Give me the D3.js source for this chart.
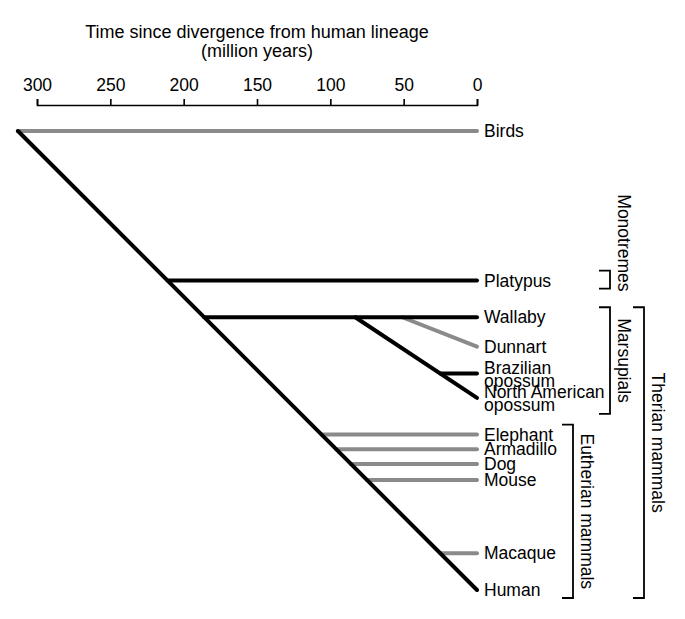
<!DOCTYPE html>
<html>
<head>
<meta charset="utf-8">
<script src="https://cdn.jsdelivr.net/npm/d3@7/dist/d3.min.js"></script>
<style>
  body { margin: 0; background: #fff; }
  svg { font-family: "Liberation Sans", Arial, Helvetica, sans-serif; }
</style>
</head>
<body>
<svg id="canvas" width="685" height="619"></svg>
<script>

// Taxa, top to bottom
var taxa = ["Birds", "Platypus", "Wallaby", "Dunnart", "Brazilian opossum",
  "North American opossum", "Elephant", "Armadillo", "Dog", "Mouse", "Macaque", "Human"];

// Time (million years ago) where each branch leaves its parent lineage
var splitTimes = [313, 211, 186, 51, 25, 83, 106, 96, 86, 75, 25, 313];
var parents = ["Human", "Human", "Human", "Wallaby", "North American opossum", "Wallaby",
  "Human", "Human", "Human", "Human", "Human", null];

// grey branches vs black branches
var lowCoverage = [true, false, false, true, false, false, true, true, true, true, true, false];

// Slanted lineages end on their own row (rows measured along the human lineage)
var tipRows = { "Human": 0, "North American opossum": 131, "Dunnart": 166 };

var axisTicks = [300, 250, 200, 150, 100, 50, 0];

// Clade brackets
var groups = ["Monotremes", "Marsupials", "Eutherian mammals", "Therian mammals"];
var groupFirst = ["Platypus", "Wallaby", "Elephant", "Wallaby"];
var groupLast = ["Platypus", "North American opossum", "Human", "Human"];


var svg = d3.select('#canvas');

var x = d3.scaleLinear().domain([300, 0]).range([37, 477]);
var y = d3.scaleLinear().domain([313, 0]).range([131, 590]);

var black = '#000';
var grey = '#8a8a8a';
var fontSize = 17.5;

// Title
var title = svg.append('text')
  .attr('text-anchor', 'middle')
  .attr('font-size', 18);
title.append('tspan').attr('x', 257).attr('y', 38).text('Time since divergence from human lineage');
title.append('tspan').attr('x', 257).attr('y', 57).text('(million years)');

// Axis
var axis = svg.append('g')
  .attr('transform', 'translate(0,105)')
  .call(d3.axisTop(x).tickValues(axisTicks).tickFormat(d3.format('d'))
    .tickSize(6).tickPadding(8));
axis.select('.domain').attr('stroke-width', 1.6);
axis.selectAll('.tick line').attr('stroke-width', 1.6);
axis.selectAll('.tick text')
  .attr('font-size', fontSize)
  .attr('font-family', '"Liberation Sans", Arial, sans-serif')
  .attr('fill', '#000');

// Work out each lineage's start and end point
var branches = {};
function branch(name) {
  if (branches[name]) return branches[name];
  var i = taxa.indexOf(name);
  var t = splitTimes[i];
  var b = { name: name, t0: t, x0: x(t), grey: lowCoverage[i] };
  if (!parents[i]) {
    b.y0 = y(t);
  } else {
    var p = branch(parents[i]);
    var f = (p.t0 - t) / p.t0;
    b.y0 = p.y0 + f * (p.y1 - p.y0);
  }
  b.x1 = x(0);
  b.y1 = (name in tipRows) ? y(tipRows[name]) : b.y0;
  branches[name] = b;
  return b;
}
var lineages = taxa.map(branch);

// grey first so the black lineages sit on top
var ordered = lineages.filter(function (d) { return d.grey; })
  .concat(lineages.filter(function (d) { return !d.grey; }));

svg.append('g')
  .selectAll('line')
  .data(ordered)
  .enter()
  .append('line')
  .attr('x1', function (d) { return d.x0; })
  .attr('y1', function (d) { return d.y0; })
  .attr('x2', function (d) { return d.x1; })
  .attr('y2', function (d) { return d.y1; })
  .attr('stroke', function (d) { return d.grey ? grey : black; })
  .attr('stroke-width', 4)
  .attr('stroke-linecap', 'round');

// Tip labels
var labels = svg.append('g')
  .attr('font-size', fontSize)
  .selectAll('text')
  .data(lineages)
  .enter()
  .append('text')
  .attr('x', function (d) { return d.x1 + 7; })
  .attr('y', function (d) { return d.y1; });

labels.each(function (d) {
  var t = d3.select(this);
  if (/ opossum$/.test(d.name)) {
    t.append('tspan').attr('x', d.x1 + 7).attr('y', d.y1 + 0.5).text(d.name.replace(' opossum', ''));
    t.append('tspan').attr('x', d.x1 + 7).attr('y', d.y1 + 13.5).text('opossum');
  } else {
    t.attr('dy', '0.35em').text(d.name);
  }
});

// Brackets
var bracketX = { "Monotremes": 610, "Marsupials": 610, "Eutherian mammals": 573, "Therian mammals": 644 };
var bracketLabelShift = { "Therian mammals": -10 };

groups.forEach(function (g, i) {
  var top = branch(groupFirst[i]).y1 - 10;
  var last = groupLast[i];
  var bottom = branch(last).y1 + (/ opossum$/.test(last) ? 16 : 8);
  var bx = bracketX[g];

  svg.append('path')
    .attr('d', 'M' + (bx - 11) + ',' + top + 'H' + bx + 'V' + bottom + 'H' + (bx - 11))
    .attr('fill', 'none')
    .attr('stroke', black)
    .attr('stroke-width', 1.8);

  var lx = bx + 14;
  var label = svg.append('text')
    .attr('font-size', fontSize)
    .attr('dy', '0.35em')
    .text(g);
  if (g === 'Monotremes') {
    // runs down to the bottom of its small bracket
    label.attr('text-anchor', 'end')
      .attr('transform', 'translate(' + lx + ',' + (bottom + 3) + ') rotate(90)');
  } else {
    var ly = (top + bottom) / 2 + (bracketLabelShift[g] || 0);
    label.attr('text-anchor', 'middle')
      .attr('transform', 'translate(' + lx + ',' + ly + ') rotate(90)');
  }
});

</script>
</body>
</html>
